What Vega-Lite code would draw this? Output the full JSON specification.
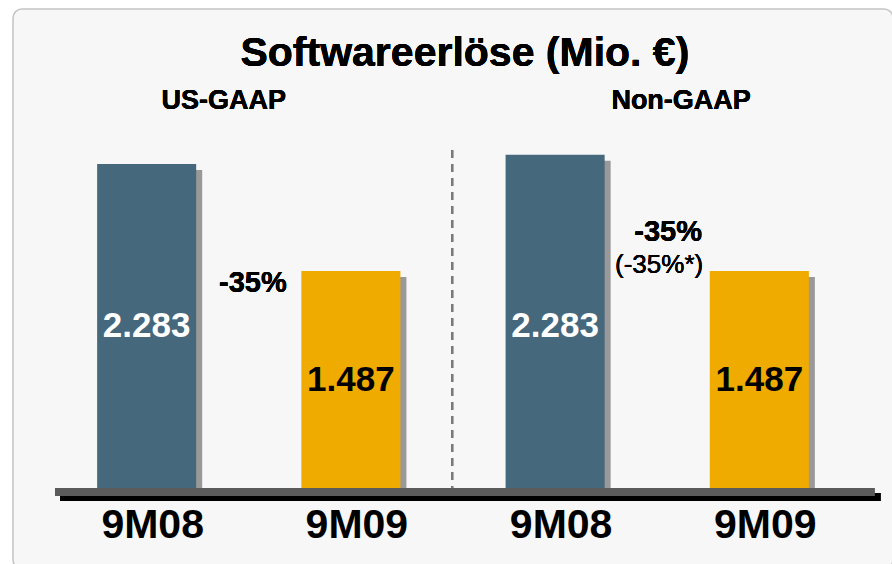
{
  "$schema": "https://vega.github.io/schema/vega-lite/v6.json",
  "width": 880,
  "height": 560,
  "autosize": {"type": "none"},
  "padding": {"left": 13, "top": 9, "right": 0, "bottom": 0},
  "background": "white",
  "config": {
    "view": {"fill": "#f7f7f7", "stroke": "#c4c4c4", "strokeWidth": 1.5, "cornerRadius": 9},
    "font": "Liberation Sans",
    "text": {"font": "Liberation Sans"}
  },
  "data": {
    "values": [
      {"key": "US 9M08", "period": "9M08", "group": "US-GAAP", "v": 2220, "label": "2.283"},
      {"key": "US 9M09", "period": "9M09", "group": "US-GAAP", "v": 1487, "label": "1.487"},
      {"key": "NG 9M08", "period": "9M08", "group": "Non-GAAP", "v": 2283, "label": "2.283"},
      {"key": "NG 9M09", "period": "9M09", "group": "Non-GAAP", "v": 1487, "label": "1.487"}
    ]
  },
  "layer": [
    {
      "mark": {"type": "bar", "color": "#999999", "xOffset": 6, "x2Offset": 6, "yOffset": 6},
      "encoding": {
        "x": {"field": "key", "type": "nominal", "axis": null,
              "scale": {"type": "band", "domain": ["US 9M08", "US 9M09", "NG 9M08", "NG 9M09"], "paddingInner": 0.515, "paddingOuter": 0.412}},
        "y": {"field": "v", "type": "quantitative", "axis": null, "scale": {"domain": [-555, 3281], "nice": false, "zero": false}},
        "y2": {"datum": 0}
      }
    },
    {
      "mark": {"type": "bar"},
      "encoding": {
        "x": {"field": "key", "type": "nominal", "axis": null},
        "y": {"field": "v", "type": "quantitative", "axis": null},
        "y2": {"datum": 0},
        "color": {"field": "period", "type": "nominal", "legend": null,
                  "scale": {"domain": ["9M08", "9M09"], "range": ["#45687d", "#efab00"]}}
      }
    },
    {
      "mark": {"type": "rule", "color": "#000000", "strokeWidth": 8, "yOffset": 9, "xOffset": -86.6, "x2Offset": 121.1, "strokeCap": "butt"},
      "encoding": {
        "x": {"datum": "US 9M08", "type": "nominal", "axis": null},
        "x2": {"datum": "NG 9M09"},
        "y": {"datum": 0, "type": "quantitative", "axis": null}
      }
    },
    {
      "mark": {"type": "rule", "color": "#5b5b5b", "strokeWidth": 8, "yOffset": 4, "xOffset": -91.6, "x2Offset": 115.1, "strokeCap": "butt"},
      "encoding": {
        "x": {"datum": "US 9M08", "type": "nominal", "axis": null},
        "x2": {"datum": "NG 9M09"},
        "y": {"datum": 0, "type": "quantitative", "axis": null}
      }
    },
    {
      "mark": {"type": "rule", "color": "#7a7a7a", "strokeWidth": 2, "strokeDash": [8, 6], "xOffset": 101.3},
      "encoding": {
        "x": {"datum": "US 9M09", "type": "nominal", "axis": null},
        "y": {"datum": 2315, "type": "quantitative", "axis": null},
        "y2": {"datum": 0}
      }
    },
    {
      "mark": {"type": "text", "text": "Softwareerlöse (Mio. €)", "fontSize": 41, "fontWeight": "bold", "baseline": "alphabetic", "align": "center", "dx": 114, "color": "#000000"},
      "encoding": {"x": {"datum": "US 9M09", "type": "nominal", "axis": null}, "y": {"datum": 2892, "type": "quantitative", "axis": null}}
    },
    {
      "mark": {"type": "text", "text": "US-GAAP", "fontSize": 27, "fontWeight": "bold", "baseline": "alphabetic", "align": "center", "dx": 77, "color": "#000000"},
      "encoding": {"x": {"datum": "US 9M08", "type": "nominal", "axis": null}, "y": {"datum": 2596, "type": "quantitative", "axis": null}}
    },
    {
      "mark": {"type": "text", "text": "Non-GAAP", "fontSize": 27, "fontWeight": "bold", "baseline": "alphabetic", "align": "center", "dx": 126, "color": "#000000"},
      "encoding": {"x": {"datum": "NG 9M08", "type": "nominal", "axis": null}, "y": {"datum": 2596, "type": "quantitative", "axis": null}}
    },
    {
      "mark": {"type": "text", "text": "-35%", "fontSize": 29, "fontWeight": "bold", "baseline": "alphabetic", "align": "center", "dx": -98, "color": "#000000"},
      "encoding": {"x": {"datum": "US 9M09", "type": "nominal", "axis": null}, "y": {"datum": 1345, "type": "quantitative", "axis": null}}
    },
    {
      "mark": {"type": "text", "text": "-35%", "fontSize": 29, "fontWeight": "bold", "baseline": "alphabetic", "align": "center", "dx": 113, "color": "#000000"},
      "encoding": {"x": {"datum": "NG 9M08", "type": "nominal", "axis": null}, "y": {"datum": 1692, "type": "quantitative", "axis": null}}
    },
    {
      "mark": {"type": "text", "text": "(-35%*)", "fontSize": 26, "fontWeight": "normal", "baseline": "alphabetic", "align": "center", "dx": 104, "color": "#000000"},
      "encoding": {"x": {"datum": "NG 9M08", "type": "nominal", "axis": null}, "y": {"datum": 1473, "type": "quantitative", "axis": null}}
    },
    {
      "mark": {"type": "text", "fontSize": 41, "fontWeight": "bold", "baseline": "alphabetic", "align": "center", "dx": 6, "color": "#000000"},
      "encoding": {
        "x": {"field": "key", "type": "nominal", "axis": null},
        "y": {"datum": -345, "type": "quantitative", "axis": null},
        "text": {"field": "period"}
      }
    },
    {
      "transform": [{"filter": "datum.period === '9M08'"}],
      "mark": {"type": "text", "fontSize": 35, "fontWeight": "bold", "baseline": "middle", "align": "center", "color": "#ffffff"},
      "encoding": {
        "x": {"field": "key", "type": "nominal", "axis": null},
        "y": {"datum": 1110, "type": "quantitative", "axis": null},
        "text": {"field": "label"}
      }
    },
    {
      "transform": [{"filter": "datum.period === '9M09'"}],
      "mark": {"type": "text", "fontSize": 35, "fontWeight": "bold", "baseline": "middle", "align": "center", "color": "#000000"},
      "encoding": {
        "x": {"field": "key", "type": "nominal", "axis": null},
        "y": {"datum": 740, "type": "quantitative", "axis": null},
        "text": {"field": "label"}
      }
    }
  ]
}
